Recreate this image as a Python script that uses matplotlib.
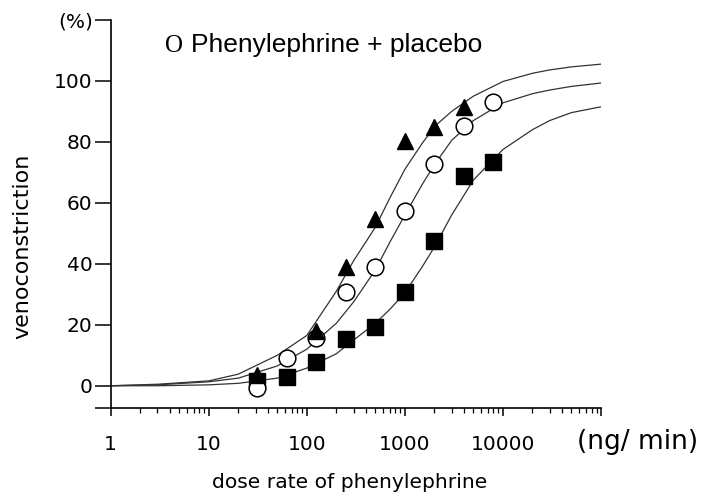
import matplotlib
matplotlib.use("Agg")
import matplotlib.pyplot as plt
from matplotlib.ticker import FixedLocator, LogLocator, NullFormatter

# measured points
dose = [31.25, 62.5, 125, 250, 500, 1000, 2000, 4000, 8000]
tri_dose = [31.25, 125, 250, 500, 1000, 2000, 4000]
tri_val = [3.6, 17.8, 38.9, 54.7, 80.4, 85.0, 91.6]
circ_val = [-0.7, 9.2, 15.8, 30.6, 38.9, 57.3, 72.8, 85.3, 93.2]
sq_val = [1.5, 3.0, 7.9, 15.2, 19.4, 30.6, 47.4, 68.8, 73.5]

# fitted curves
curve_dose = [1, 3, 10, 20, 50, 100, 200, 300, 500, 700, 1000, 1500, 2000,
              3000, 5000, 10000, 20000, 30000, 50000, 100000]
tri_curve = [0, 0.5, 1.6, 3.8, 10, 16.5, 31, 41, 52, 61.5, 71, 79.5, 85,
             90, 95, 99.8, 102.5, 103.6, 104.6, 105.5]
circ_curve = [0, 0.3, 1.3, 2.5, 6.5, 12, 20.5, 27.5, 38, 47, 56, 66, 72.5,
              80.5, 87, 92.8, 95.8, 97, 98.2, 99.3]
sq_curve = [0, 0, 0.3, 0.8, 2.5, 5.8, 10.5, 15, 20.5, 25, 30.5, 39, 45.5,
            56, 67.5, 77.5, 84, 87, 89.6, 91.5]

fig = plt.figure(figsize=(7.05, 4.98), dpi=100)
ax = fig.add_axes([0.157, 0.181, 0.6955, 0.779])

ax.plot(curve_dose, tri_curve, color="#333333", lw=0.9)
ax.plot(curve_dose, circ_curve, color="#333333", lw=0.9)
ax.plot(curve_dose, sq_curve, color="#333333", lw=0.9)

ax.plot(dose, sq_val, "s", color="black", markersize=12, ls="none")
ax.plot(dose, circ_val, "o", mfc="white", mec="black", mew=1.1,
        markersize=12, ls="none")
ax.plot(tri_dose, tri_val, "^", color="black", markersize=12, ls="none")

ax.set_xscale("log")
ax.set_xlim(1, 100000)
ax.set_ylim(-7.25, 120)

ax.xaxis.set_major_locator(FixedLocator([1, 10, 100, 1000, 10000, 100000]))
ax.set_xticklabels(["1", "10", "100", "1000", "10000", ""], fontsize=14.5)
ax.xaxis.set_minor_locator(LogLocator(base=10, subs=range(2, 10)))
ax.xaxis.set_minor_formatter(NullFormatter())

ax.set_yticks([-7.25, 0, 20, 40, 60, 80, 100, 120])
ax.set_yticklabels(["", "0", "20", "40", "60", "80", "100", "(%)"], fontsize=14.5)

ax.tick_params(axis="x", which="major", length=6, width=1.1, pad=13.5)
ax.tick_params(axis="x", which="minor", length=3.6, width=0.9)
ax.tick_params(axis="y", which="major", length=11.5, width=1.1, pad=1.5)

for s in ["top", "right"]:
    ax.spines[s].set_visible(False)
for s in ["left", "bottom"]:
    ax.spines[s].set_linewidth(1.2)

fig.text(0.031, 0.506, "venoconstriction", fontsize=16, rotation=90,
         ha="center", va="center")
fig.text(0.496, 0.032, "dose rate of phenylephrine", fontsize=14.6,
         ha="center", va="center")
fig.text(0.818, 0.112, "(ng/ min)", fontsize=19, va="center", ha="left")

fig.text(0.234, 0.8956, "O", fontsize=18, family="Liberation Serif",
         va="baseline", ha="left")
fig.text(0.2715, 0.8956, "Phenylephrine + placebo", fontsize=19,
         family="Liberation Sans", va="baseline", ha="left")

fig.savefig("out.png", dpi=100)
